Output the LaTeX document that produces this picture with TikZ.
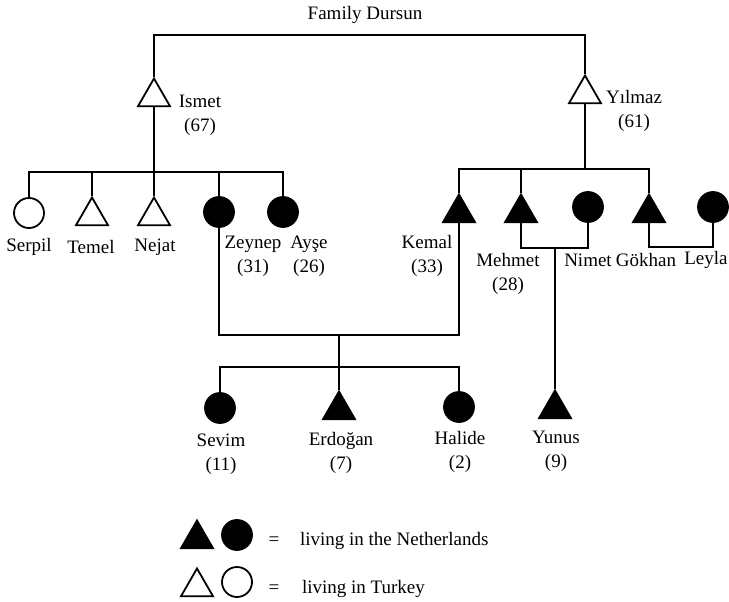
\documentclass[tikz,border=0pt]{standalone}
\usepackage{fontspec}
\setmainfont{Liberation Serif}
\usepackage{tikz}
\usetikzlibrary{shapes.geometric}

\begin{document}
\begin{tikzpicture}[x=1pt,y=-1pt,line width=2pt,
  every node/.style={font=\fontsize{19}{24}\selectfont,inner sep=0pt},
  male/.style={regular polygon,regular polygon sides=3,minimum size=37pt,draw,line width=1.8pt},
  female/.style={circle,minimum size=30pt,draw,line width=1.8pt},
  nlfill/.style={fill=black},
  trfill/.style={fill=white},
  who/.style={align=center}]
            \useasboundingbox (0,0) rectangle (729,602);
            \node (title) at (365,15) {Family Dursun};
            % the two brothers
            \node[male,trfill] (ismet) at (154,97) {};
            \node[male,trfill] (yilmaz) at (585,94) {};
            \node[who] (ismetlbl) at (200,115) {Ismet\\(67)};
            \node[who] (yilmazlbl) at (634,111) {Yılmaz\\(61)};
            % children of Ismet
            \node[female,trfill] (serpil) at (29,213) {};
            \node[male,trfill] (temel) at (92,216) {};
            \node[male,trfill] (nejat) at (154,216) {};
            \node[female,nlfill] (zeynep) at (219,212) {};
            \node[female,nlfill] (ayse) at (283,212) {};
            \node (serpillbl) at (29,247) {Serpil};
            \node (temellbl) at (91,247) {Temel};
            \node (nejatlbl) at (155,247) {Nejat};
            \node[who] (zeyneplbl) at (253,256) {Zeynep\\(31)};
            \node[who] (aylbl) at (309,256) {Ayşe\\(26)};
            % children of Yilmaz
            \node[male,nlfill] (kemal) at (459,213) {};
            \node[male,nlfill] (mehmet) at (521,213) {};
            \node[female,nlfill] (nimet) at (588,207) {};
            \node[male,nlfill] (gokhan) at (649,213) {};
            \node[female,nlfill] (leyla) at (713,207) {};
            \node[who] (kemallbl) at (427,256) {Kemal\\(33)};
            \node[who] (mehmetlbl) at (508,274) {Mehmet\\(28)};
            \node (nimetlbl) at (588,260) {Nimet};
            \node (gokhanlbl) at (646,260) {Gökhan};
            \node (leylalbl) at (706,260) {Leyla};
            % grandchildren
            \node[female,nlfill] (sevim) at (220,408) {};
            \node[male,nlfill] (erdogan) at (339,410) {};
            \node[female,nlfill] (halide) at (459,407) {};
            \node[male,nlfill] (yunus) at (555,409) {};
            \node[who] (sevimlbl) at (221,454) {Sevim\\(11)};
            \node[who] (erdoganlbl) at (341,453) {Erdoğan\\(7)};
            \node[who] (halidelbl) at (460,452) {Halide\\(2)};
            \node[who] (yunuslbl) at (556,451) {Yunus\\(9)};
            % legend
            \node[male,nlfill] (keynlm) at (197,539) {};
            \node[female,nlfill] (keynlf) at (237,535) {};
            \node (keynleq) at (274,541) {=};
            \node[anchor=west] (keynltxt) at (299,541) {living in the Netherlands};
            \node[male,trfill] (keytrm) at (197,587) {};
            \node[female,trfill] (keytrf) at (237,582) {};
            \node (keytreq) at (274,589) {=};
            \node[anchor=west] (keytrtxt) at (301,589) {living in Turkey};
            % lines
            \coordinate (famtop) at (365,35);
            \draw (ismet.north) |- (famtop) -| (yilmaz.north);
            \coordinate (ibar) at (154,172);
            \draw (ismet.south) -- (ibar);
            \draw (serpil.north) |- (ibar) -| (ayse.north);
            \draw (temel.north) -- (temel.north |- ibar);
            \draw (nejat.north) -- (ibar);
            \draw (zeynep.north) -- (zeynep.north |- ibar);
            \coordinate (ybar) at (585,169);
            \draw (yilmaz.south) -- (ybar);
            \draw (kemal.north) |- (ybar) -| (gokhan.north);
            \draw (mehmet.north) -- (mehmet.north |- ybar);
            \coordinate (zkmid) at (339,335);
            \coordinate (zkkids) at (339,367);
            \draw (zeynep.south) |- (zkmid) -| (kemal.south);
            \draw (zkmid) -- (zkkids);
            \draw (sevim.north) |- (zkkids) -| (halide.north);
            \draw (erdogan.north) -- (zkkids);
            \coordinate (mnmid) at (555,248);
            \draw (mehmet.south) |- (mnmid) -| (nimet.south);
            \draw (mnmid) -- (yunus.north);
            \coordinate (glmid) at (681,247);
            \draw (gokhan.south) |- (glmid) -| (leyla.south);
        \end{tikzpicture}
\end{document}
